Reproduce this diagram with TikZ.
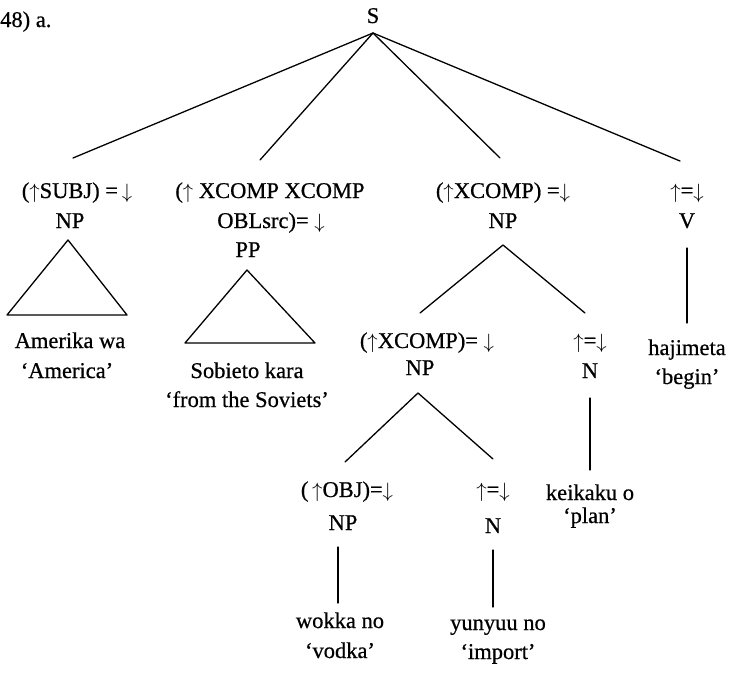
\documentclass[tikz,border=0pt]{standalone}
\usepackage{fontspec}
\setmainfont{Liberation Serif}[FakeBold=0.6]
\usetikzlibrary{calc}
\newcommand{\treefont}{\fontsize{22.5}{28}\selectfont}
\newcommand{\upa}{$\uparrow$}
\newcommand{\dna}{$\downarrow$}
\begin{document}
\begin{tikzpicture}[x=1pt,y=-1pt,
  lbl/.style={anchor=base,inner sep=0pt,font=\treefont},
  branch/.style={line width=1.3pt,line cap=round,line join=round}]
\useasboundingbox (0,0) rectangle (730,672);

% example number
\node[lbl,anchor=base west] (num) at (0,27) {48) a.};

% root
\node[lbl] (S) at (373,23) {S};

% subject
\node[lbl] (subjA) at (77,198) {(\upa SUBJ) =\,\dna};
\node[lbl] (subjNP) at (70,228) {NP};
\node[lbl] (am1) at (70,348) {Amerika wa};
\node[lbl] (am2) at (67,378) {‘America’};

% oblique
\node[lbl] (obl1) at (270,198) {(\upa\ XCOMP XCOMP};
\node[lbl] (obl2) at (271,228) {OBLsrc)= \dna};
\node[lbl] (PP) at (248,257) {PP};
\node[lbl] (sob1) at (247,378) {Sobieto kara};
\node[lbl] (sob2) at (247,407) {‘from the Soviets’};

% xcomp NP
\node[lbl] (xcA) at (503,198) {(\upa XCOMP) =\dna};
\node[lbl] (xcNP) at (503,228) {NP};
\node[lbl] (xc2A) at (427,348) {(\upa XCOMP)= \dna};
\node[lbl] (xc2NP) at (420,375) {NP};
\node[lbl] (nA) at (590,348) {\upa=\dna};
\node[lbl] (N) at (590,378) {N};
\node[lbl] (kei1) at (590,500) {keikaku o};
\node[lbl] (kei2) at (590,523) {‘plan’};
\node[lbl] (objA) at (347,497) {(\,\upa OBJ)=\dna};
\node[lbl] (objNP) at (343,530) {NP};
\node[lbl] (n2A) at (493,497) {\upa=\dna};
\node[lbl] (N2) at (493,533) {N};
\node[lbl] (wok1) at (340,628) {wokka no};
\node[lbl] (wok2) at (340,658) {‘vodka’};
\node[lbl] (yun1) at (498,630) {yunyuu no};
\node[lbl] (yun2) at (498,659) {‘import’};

% verb
\node[lbl] (vA) at (687,198) {\upa=\dna};
\node[lbl] (V) at (687,228) {V};
\node[lbl] (haj1) at (687,355) {hajimeta};
\node[lbl] (haj2) at (687,384) {‘begin’};

% branches from S
\draw[branch] ($(S.base)+(0,10)$) -- ($(subjA.base)+(-4,-40)$);
\draw[branch] ($(S.base)+(0,10)$) -- ($(obl1.base)+(-10,-38)$);
\draw[branch] ($(S.base)+(0,10)$) -- ($(xcA.base)+(-3,-40)$);
\draw[branch] ($(S.base)+(0,10)$) -- ($(vA.base)+(-7,-37)$);

% abbreviated constituents
\draw[branch] ($(subjNP.base)+(-2,12)$) -- ($(subjNP.base)+(-63,87)$)
  -- ($(subjNP.base)+(57,87)$) -- cycle;
\draw[branch] ($(PP.base)+(-1,13)$) -- ($(PP.base)+(-63,86)$)
  -- ($(PP.base)+(67,86)$) -- cycle;

% inside the XCOMP NP
\draw[branch] ($(xcNP.base)+(0,17)$) -- ($(xc2A.base)+(-7,-35)$);
\draw[branch] ($(xcNP.base)+(0,17)$) -- ($(nA.base)+(-5,-35)$);
\draw[branch] ($(xc2NP.base)+(-2,18)$) -- ($(objA.base)+(-2,-35)$);
\draw[branch] ($(xc2NP.base)+(-2,18)$) -- ($(n2A.base)+(0,-38)$);

% lexical attachments
\draw[branch] ($(V.base)+(0,20)$) -- ($(haj1.base)+(0,-32)$);
\draw[branch] ($(N.base)+(0,20)$) -- ($(kei1.base)+(0,-30)$);
\draw[branch] ($(objNP.base)+(-5,17)$) -- ($(wok1.base)+(-2,-25)$);
\draw[branch] ($(N2.base)+(0,17)$) -- ($(yun1.base)+(-5,-23)$);
\end{tikzpicture}
\end{document}
